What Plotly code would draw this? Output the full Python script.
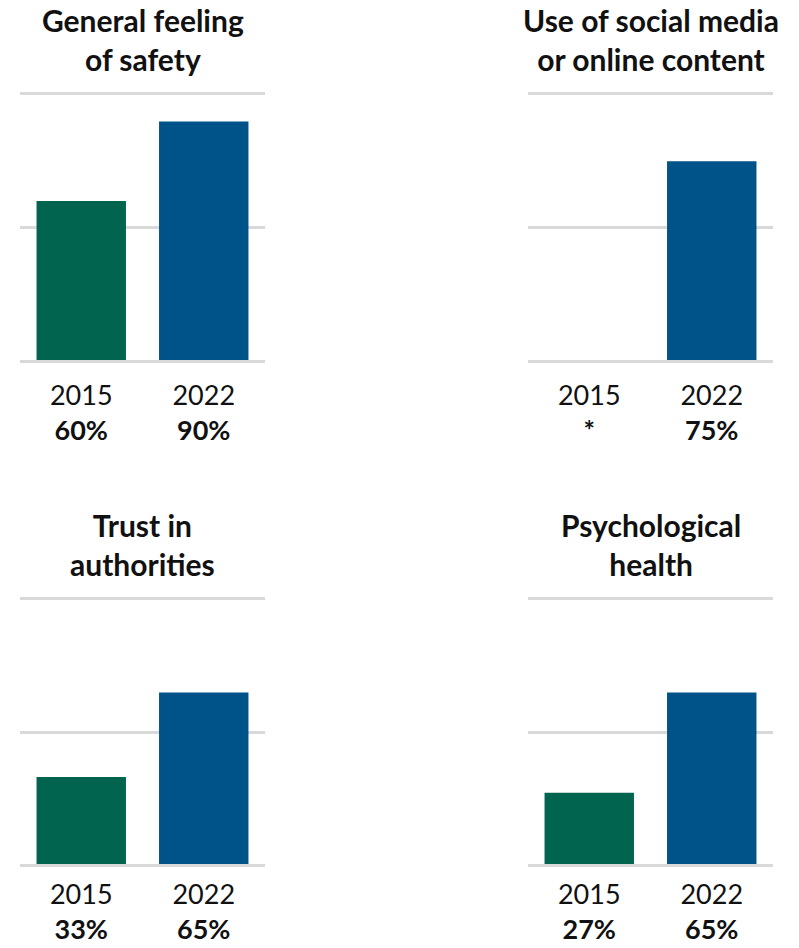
import plotly.graph_objects as go

# Survey results by topic, 2015 vs 2022 (percent)
topics = ["General feeling<br>of safety", "Use of social media<br>or online content",
          "Trust in<br>authorities", "Psychological<br>health"]
years = ["2015", "2022"]
values_2015 = [60, None, 33, 27]
values_2022 = [90, 75, 65, 65]

colors = {"2015": "#00644E", "2022": "#005388"}
FONT = "Lato, 'Open Sans', sans-serif"
GRID = "#D9D9D9"
W, H = 799, 948

# panel placement in pixels: (left, right, y_of_0, y_of_100, label standoff)
panels = [(20, 265, 360, 95, 10), (528, 773, 360, 95, 10),
          (20, 265, 864, 600, 5), (528, 773, 864, 600, 5)]

fig = go.Figure()
layout = {}
for i, (topic, v15, v22) in enumerate(zip(topics, values_2015, values_2022)):
    n = "" if i == 0 else str(i + 1)
    xl, xr, y0, y1, standoff = panels[i]
    vals = [v15, v22]
    fig.add_trace(go.Bar(
        x=years, y=vals, xaxis="x" + n, yaxis="y" + n,
        marker=dict(color=[colors[y] for y in years], line_width=0),
        showlegend=False, hoverinfo="skip"))
    ticktext = [f"{yr}<br><b>{'*' if v is None else str(v) + '%'}</b>"
                for yr, v in zip(years, vals)]
    # axis line + mirror give the 0% and 100% rules; the grid gives 50%
    layout["xaxis" + n] = dict(
        domain=[xl / W, xr / W], anchor="y" + n, type="category",
        tickvals=years, ticktext=ticktext, ticks="", showgrid=False,
        showline=True, mirror=True, linecolor=GRID, linewidth=2.5,
        zeroline=False, fixedrange=True, ticklabelstandoff=standoff,
        automargin=False,
        tickfont=dict(family=FONT, size=27, color="#111111"))
    layout["yaxis" + n] = dict(
        domain=[1 - y0 / H, 1 - y1 / H], anchor="x" + n, range=[0, 100],
        tickvals=[0, 50, 100], showticklabels=False, showgrid=True,
        gridcolor=GRID, gridwidth=2.5, zeroline=False, showline=False,
        fixedrange=True, automargin=False)
    fig.add_annotation(
        text=f"<b>{topic}</b>", xref="paper", yref="paper",
        x=(xl + xr) / 2 / W, y=1 - (y1 - 56) / H, xanchor="center",
        yanchor="middle", showarrow=False,
        font=dict(family=FONT, size=30, color="#111111"))

fig.update_layout(
    width=W, height=H, margin=dict(l=0, r=0, t=0, b=0, autoexpand=False),
    paper_bgcolor="white", plot_bgcolor="white", bargap=0.27,
    **layout)

fig.write_html("out.html")
